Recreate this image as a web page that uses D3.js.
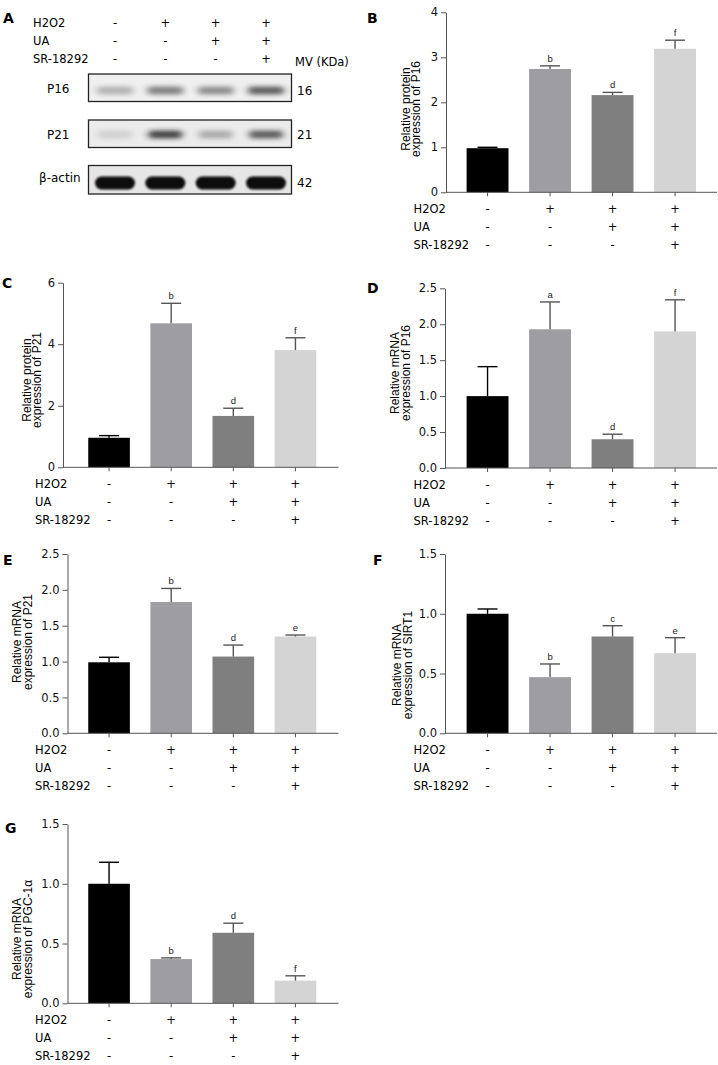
<!DOCTYPE html>
<html><head><meta charset="utf-8">
<script src="https://cdn.jsdelivr.net/npm/d3@7"></script>
<style>body{margin:0;background:#fff}svg{display:block}</style>
</head><body>
<svg id="c" width="718" height="1065"></svg>
<script>
// ---------- data ----------
const groups = ["Control", "H2O2", "H2O2+UA", "H2O2+UA+SR"];
const rowLabels = ["H2O2", "UA", "SR-18292"];
const h2o2Signs = ["-", "+", "+", "+"];
const uaSigns = ["-", "-", "+", "+"];
const srSigns = ["-", "-", "-", "+"];

const p16ProteinMean = [0.98, 2.74, 2.16, 3.19];
const p16ProteinSem = [0.02, 0.07, 0.06, 0.19];
const p16ProteinSig = ["", "b", "d", "f"];

const p21ProteinMean = [0.96, 4.68, 1.67, 3.81];
const p21ProteinSem = [0.07, 0.65, 0.25, 0.40];
const p21ProteinSig = ["", "b", "d", "f"];

const p16mRNAMean = [1.00, 1.93, 0.40, 1.90];
const p16mRNASem = [0.41, 0.38, 0.07, 0.44];
const p16mRNASig = ["", "a", "d", "f"];

const p21mRNAMean = [0.99, 1.83, 1.07, 1.35];
const p21mRNASem = [0.07, 0.19, 0.16, 0.02];
const p21mRNASig = ["", "b", "d", "e"];

const sirt1Mean = [1.00, 0.47, 0.81, 0.67];
const sirt1Sem = [0.04, 0.11, 0.09, 0.13];
const sirt1Sig = ["", "b", "c", "e"];

const pgcMean = [1.00, 0.37, 0.59, 0.19];
const pgcSem = [0.18, 0.01, 0.08, 0.04];
const pgcSig = ["", "b", "d", "f"];

const ticksProtP16 = [0, 1, 2, 3, 4];
const ticksProtP21 = [0, 2, 4, 6];
const ticks25 = [0, 0.5, 1.0, 1.5, 2.0, 2.5];
const ticks15 = [0, 0.5, 1.0, 1.5];

// western blot (panel A) relative band intensities
const blotLabels = ["P16", "P21", "β-actin"];
const blotKDa = ["16", "21", "42"];
const p16Bands = [0.30, 0.55, 0.48, 0.72];
const p21Bands = [0.12, 0.80, 0.30, 0.68];
const actinBands = [1.0, 1.0, 1.0, 1.0];

// ---------- styles ----------
const barColors = ["#000000", "#9e9ea2", "#7f7f7f", "#d4d4d4"];
const errColors = ["#000000", "#555555", "#555555", "#555555"];
const axisColor = "#555";
const FONT = "'DejaVu Sans', Verdana, sans-serif";
const TFONT = "'Liberation Sans', Arial, sans-serif";

const svg = d3.select("#c");

// ---------- defs ----------
const defs = svg.append("defs");
defs.append("filter").attr("id", "blurS").attr("x", "-50%").attr("y", "-100%").attr("width", "200%").attr("height", "300%")
  .append("feGaussianBlur").attr("stdDeviation", "3.5 2.2");
defs.append("filter").attr("id", "blurA").attr("x", "-50%").attr("y", "-100%").attr("width", "200%").attr("height", "300%")
  .append("feGaussianBlur").attr("stdDeviation", "1.3 1.1");

// ---------- panel A: western blot ----------
(function () {
  const g = svg.append("g");
  g.append("text").attr("x", 3).attr("y", 22.5).text("A")
    .attr("font-family", FONT).attr("font-weight", "bold").attr("font-size", 14);
  const lane = d3.scalePoint().domain(groups).range([115, 266]);
  const signRows = [h2o2Signs, uaSigns, srSigns];
  const rowY = [22.7, 40.7, 59.3];
  rowLabels.forEach((lab, i) => {
    g.append("text").attr("x", 33).attr("y", rowY[i]).attr("dominant-baseline", "central")
      .attr("font-family", FONT).attr("font-size", 11.5).text(lab);
    g.selectAll(null).data(groups).join("text")
      .attr("x", d => lane(d)).attr("y", rowY[i]).attr("dominant-baseline", "central")
      .attr("text-anchor", "middle").attr("font-family", FONT).attr("font-size", 11.5)
      .text((d, j) => signRows[i][j]);
  });
  g.append("text").attr("x", 295).attr("y", 61.7).attr("dominant-baseline", "central")
    .attr("font-family", FONT).attr("font-size", 11.5).text("MV (KDa)");

  const boxes = [
    { y: 74, h: 27.5, bg: "#efefef", bands: p16Bands, by: 90.5, w: 36, bh: 8, f: "url(#blurS)", col: "#2a2a2a" },
    { y: 120, h: 27.5, bg: "#ebebeb", bands: p21Bands, by: 134.5, w: 34, bh: 8, f: "url(#blurS)", col: "#1e1e1e" },
    { y: 165.5, h: 28.5, bg: "#e6e6e6", bands: actinBands, by: 183, w: 40, bh: 13, f: "url(#blurA)", col: "#0a0a0a" }
  ];
  boxes.forEach((b, i) => {
    const clipId = "clipb" + i;
    defs.append("clipPath").attr("id", clipId).append("rect")
      .attr("x", 88.5).attr("y", b.y).attr("width", 203).attr("height", b.h);
    const bg = g.append("g").attr("clip-path", `url(#${clipId})`);
    bg.append("rect").attr("x", 88.5).attr("y", b.y).attr("width", 203).attr("height", b.h).attr("fill", b.bg);
    bg.selectAll(null).data(groups).join("rect")
      .attr("x", d => lane(d) - b.w / 2).attr("y", b.by - b.bh / 2)
      .attr("width", b.w).attr("height", b.bh).attr("rx", b.bh / 2).attr("ry", b.bh / 2)
      .attr("fill", b.col).attr("opacity", (d, j) => b.bands[j])
      .attr("filter", b.f);
    g.append("rect").attr("x", 88.5).attr("y", b.y).attr("width", 203).attr("height", b.h)
      .attr("fill", "none").attr("stroke", "#222").attr("stroke-width", 1.3);
    g.append("text").attr("x", i === 2 ? 39 : 47).attr("y", i === 2 ? 177.7 : b.y + 14.5)
      .attr("dominant-baseline", "central").attr("font-family", FONT).attr("font-size", 12)
      .text(blotLabels[i]);
    g.append("text").attr("x", 297).attr("y", b.by)
      .attr("dominant-baseline", "central").attr("font-family", FONT).attr("font-size", 12)
      .text(blotKDa[i]);
  });
})();

// ---------- bar panels ----------
const LEFT = { xr: [78, 326.5], axisEnd: 338.5, labelX: 35 };
const RIGHT = { xr: [456.3, 706.3], axisEnd: 717, labelX: 413.5 };

function barPanel(cfg) {
  const g = svg.append("g");
  const ticks = cfg.ticks;
  const y = d3.scaleLinear().domain([0, ticks[ticks.length - 1]]).range([cfg.y0, cfg.yTop]);
  const x = d3.scaleBand().domain(groups).range(cfg.side.xr).paddingInner(0.33).paddingOuter(0.165);

  g.append("text").attr("x", cfg.letter[0]).attr("y", cfg.letter[1]).text(cfg.name)
    .attr("font-family", FONT).attr("font-weight", "bold").attr("font-size", 14);

  g.selectAll(null).data(groups).join("rect")
    .attr("x", d => x(d)).attr("width", x.bandwidth())
    .attr("y", (d, i) => y(cfg.mean[i])).attr("height", (d, i) => y(0) - y(cfg.mean[i]))
    .attr("fill", (d, i) => barColors[i]);

  const eg = g.append("g").attr("stroke-width", 1.4);
  groups.forEach((d, i) => {
    const cx = x(d) + x.bandwidth() / 2;
    const top = y(cfg.mean[i] + cfg.sem[i]);
    eg.append("line").attr("x1", cx).attr("x2", cx).attr("y1", y(cfg.mean[i])).attr("y2", top).attr("stroke", errColors[i]);
    eg.append("line").attr("x1", cx - 10).attr("x2", cx + 10).attr("y1", top).attr("y2", top).attr("stroke", errColors[i]);
    if (cfg.sig[i]) {
      g.append("text").attr("x", cx).attr("y", top - 4).attr("text-anchor", "middle")
        .attr("font-family", TFONT).attr("font-size", 9.5).attr("fill", "#222").text(cfg.sig[i]);
    }
  });

  const ya = g.append("g").attr("transform", `translate(${cfg.axisX},0)`)
    .call(d3.axisLeft(y).tickValues(ticks).tickFormat(d3.format(cfg.fmt)).tickSize(5).tickSizeOuter(0).tickPadding(3));
  ya.select(".domain").attr("stroke", axisColor);
  ya.selectAll(".tick line").attr("stroke", axisColor);
  ya.selectAll(".tick text").attr("font-family", FONT).attr("font-size", 11.5).attr("fill", "#111");

  g.append("line").attr("x1", cfg.axisX).attr("x2", cfg.side.axisEnd).attr("y1", cfg.y0).attr("y2", cfg.y0)
    .attr("stroke", axisColor).attr("stroke-width", 1);
  const xa = g.append("g").attr("transform", `translate(0,${cfg.y0})`)
    .call(d3.axisBottom(x).tickSize(4).tickFormat(""));
  xa.select(".domain").remove();
  xa.selectAll(".tick line").attr("stroke", axisColor);

  const signRows = [h2o2Signs, uaSigns, srSigns];
  rowLabels.forEach((lab, r) => {
    const ry = cfg.y0 + 16.5 + r * 18.3;
    g.append("text").attr("x", cfg.side.labelX).attr("y", ry).attr("dominant-baseline", "central")
      .attr("font-family", FONT).attr("font-size", 11.5).text(lab);
    g.selectAll(null).data(groups).join("text")
      .attr("x", d => x(d) + x.bandwidth() / 2).attr("y", ry).attr("dominant-baseline", "central")
      .attr("text-anchor", "middle").attr("font-family", FONT).attr("font-size", 11.5)
      .text((d, j) => signRows[r][j]);
  });

  cfg.title.forEach((t, k) => {
    g.append("text").attr("transform", `translate(${cfg.titleX[k]},${cfg.titleY}) rotate(-90)`)
      .attr("text-anchor", "middle").attr("dominant-baseline", "central")
      .attr("font-family", TFONT).attr("font-size", 12).text(t);
  });
}

barPanel({ name: "B", side: RIGHT, axisX: 446, y0: 192.3, yTop: 12.3, ticks: ticksProtP16, fmt: "d",
  mean: p16ProteinMean, sem: p16ProteinSem, sig: p16ProteinSig,
  title: ["Relative protein", "expression of P16"], titleX: [405.5, 416], titleY: 109, letter: [367, 22.5] });
barPanel({ name: "C", side: LEFT, axisX: 63, y0: 467.3, yTop: 282.7, ticks: ticksProtP21, fmt: "d",
  mean: p21ProteinMean, sem: p21ProteinSem, sig: p21ProteinSig,
  title: ["Relative protein", "expression of P21"], titleX: [26.5, 37], titleY: 380, letter: [2, 288] });
barPanel({ name: "D", side: RIGHT, axisX: 445, y0: 468, yTop: 288.3, ticks: ticks25, fmt: ".1f",
  mean: p16mRNAMean, sem: p16mRNASem, sig: p16mRNASig,
  title: ["Relative mRNA", "expression of P16"], titleX: [395, 405.5], titleY: 373, letter: [367, 293] });
barPanel({ name: "E", side: LEFT, axisX: 67.5, y0: 733.3, yTop: 554, ticks: ticks25, fmt: ".1f",
  mean: p21mRNAMean, sem: p21mRNASem, sig: p21mRNASig,
  title: ["Relative mRNA", "expression of P21"], titleX: [17.3, 28], titleY: 642, letter: [3, 565] });
barPanel({ name: "F", side: RIGHT, axisX: 445, y0: 733.3, yTop: 554, ticks: ticks15, fmt: ".1f",
  mean: sirt1Mean, sem: sirt1Sem, sig: sirt1Sig,
  title: ["Relative mRNA", "expression of SIRT1"], titleX: [396.5, 407.5], titleY: 665, letter: [373, 565] });
barPanel({ name: "G", side: LEFT, axisX: 67.5, y0: 1003.3, yTop: 824, ticks: ticks15, fmt: ".1f",
  mean: pgcMean, sem: pgcSem, sig: pgcSig,
  title: ["Relative mRNA", "expression of PGC-1α"], titleX: [17.3, 28], titleY: 939, letter: [5, 833] });
</script>
</body></html>
